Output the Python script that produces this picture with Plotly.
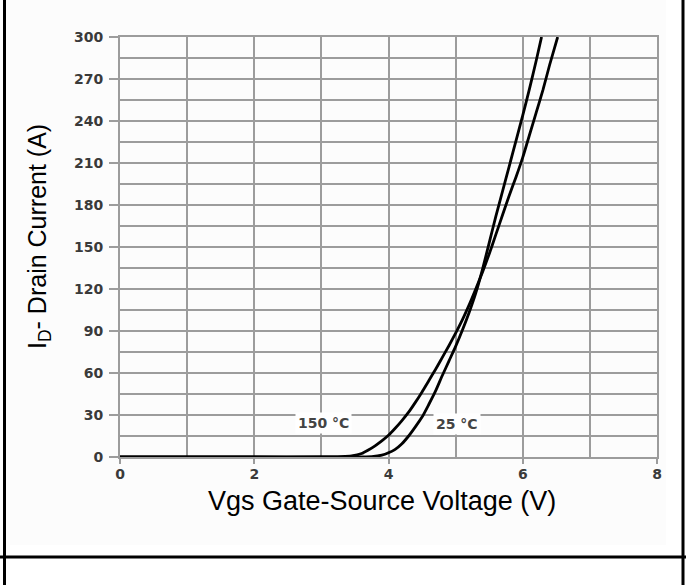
import plotly.graph_objects as go

# ---------------- data ----------------
vgs_25c = [0, 1, 2, 3, 3.5, 3.75, 3.9, 4.0, 4.1, 4.2, 4.3, 4.4, 4.5, 4.6, 4.7, 4.8, 4.9,
           5.0, 5.1, 5.2, 5.3, 5.4, 5.5, 5.6, 5.7, 5.8, 5.9, 6.0, 6.1, 6.2, 6.28]
id_25c = [0, 0, 0, 0, 0, 0.3, 1.3, 3, 5.5, 9.5, 15, 21.5, 28.5, 37.5, 47, 58, 68.5,
          79, 90.5, 103, 117, 134, 153, 172, 190, 208, 226, 244, 263, 283, 300]

vgs_150c = [0, 1, 2, 3.0, 3.3, 3.45, 3.6, 3.7, 3.8, 3.9, 4.0, 4.1, 4.2, 4.3, 4.4, 4.5, 4.6,
            4.7, 4.8, 4.9, 5.0, 5.1, 5.2, 5.3, 5.4, 5.5, 5.6, 5.7, 5.8, 5.9, 6.0, 6.1,
            6.2, 6.3, 6.4, 6.52]
id_150c = [0, 0, 0, 0, 0.3, 0.8, 2.5, 5, 8, 11.5, 15.5, 20.5, 26, 32, 39, 46.5, 54.5,
           62.5, 71, 79.5, 88.5, 98, 108.5, 120, 132, 145, 159, 173, 187, 200, 214, 230,
           246, 262, 280, 300]

curve_labels = ["150 °C", "25 °C"]
label_x = [3.03, 5.02]
label_y = [24.3, 23.8]

x_range = [0, 8]
y_range = [0, 300]
x_title = "Vgs Gate-Source Voltage (V)"
y_title = "I<sub>D</sub>- Drain Current (A)"

# ---------------- layout geometry (pixels) ----------------
W, H = 686, 585
L, R = 120, 657          # plot area left/right
T, B = 37, 457           # plot area top/bottom


def px_x(p):
    return (p - L) / (R - L)


def px_y(p):
    return (B - p) / (B - T)


GRID = "#9c9c9c"
TICKFONT = dict(family="DejaVu Sans", size=14, color="#3a3a3a", weight="bold")

fig = go.Figure()
for xs, ys in [(vgs_25c, id_25c), (vgs_150c, id_150c)]:
    fig.add_trace(go.Scatter(x=xs, y=ys, mode="lines",
                             line=dict(color="black", width=2.8, shape="spline", smoothing=0.6),
                             showlegend=False, hoverinfo="skip"))

for txt, lx, ly in zip(curve_labels, label_x, label_y):
    fig.add_annotation(x=lx, y=ly, text=txt, showarrow=False, bgcolor="white",
                       font=dict(family="DejaVu Sans", size=14, color="#444444", weight="bold"),
                       borderpad=2)

fig.add_annotation(xref="paper", yref="paper", x=px_x(382), y=px_y(501),
                   text=x_title, showarrow=False, xanchor="center", yanchor="middle",
                   font=dict(family="Liberation Sans", size=27, color="black"))
fig.add_annotation(xref="paper", yref="paper", x=px_x(39), y=px_y(237),
                   text=y_title, showarrow=False, xanchor="center", yanchor="middle",
                   textangle=-90,
                   font=dict(family="Liberation Sans", size=25, color="black"))

# faint background of the embedded picture
fig.add_shape(type="rect", xref="paper", yref="paper", layer="below",
              x0=px_x(10), x1=px_x(666), y0=px_y(0), y1=px_y(545),
              line=dict(width=0), fillcolor="#fcfcfc")
# table cell borders
border = dict(color="black", width=3)
fig.add_shape(type="line", xref="paper", yref="paper", x0=px_x(4.5), x1=px_x(4.5),
              y0=px_y(0), y1=px_y(585), line=border)
fig.add_shape(type="line", xref="paper", yref="paper", x0=px_x(683), x1=px_x(683),
              y0=px_y(0), y1=px_y(585), line=border)
fig.add_shape(type="line", xref="paper", yref="paper", x0=px_x(0), x1=px_x(686),
              y0=px_y(557), y1=px_y(557), line=border)

axis_common = dict(showgrid=True, gridcolor=GRID, gridwidth=2, zeroline=False,
                   showline=True, linecolor=GRID, linewidth=2, mirror=True,
                   ticks="outside", tickcolor=GRID, tickwidth=2, tickfont=TICKFONT)

fig.update_xaxes(range=x_range, tick0=0, dtick=2, ticklen=5, ticklabelstandoff=-2,
                 minor=dict(dtick=1, showgrid=True, gridcolor=GRID, gridwidth=2, ticks=""),
                 **axis_common)
fig.update_yaxes(range=y_range, tick0=0, dtick=30, ticklen=9, ticklabelstandoff=3,
                 minor=dict(dtick=15, showgrid=True, gridcolor=GRID, gridwidth=2, ticks=""),
                 **axis_common)

fig.update_layout(width=W, height=H, autosize=False,
                  margin=dict(l=L, r=W - R, t=T, b=H - B),
                  paper_bgcolor="white", plot_bgcolor="white",
                  showlegend=False)

# remove the browser's default page margin so the figure sits at the window's corner
fig.write_html("out.html", config={"displayModeBar": False},
               post_script="document.body.style.margin='0';document.body.style.overflow='hidden';")
